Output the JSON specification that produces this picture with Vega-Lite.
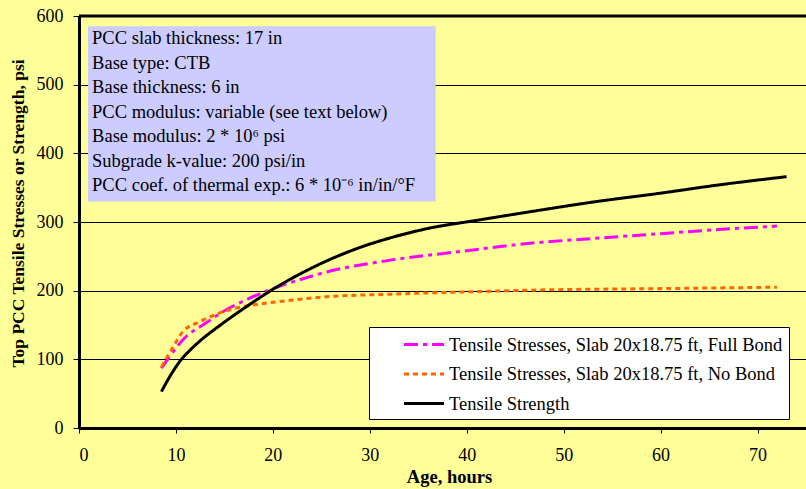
{
  "$schema": "https://vega.github.io/schema/vega-lite/v6.json",
  "width": 727,
  "height": 412,
  "autosize": {"type": "none"},
  "padding": {"left": 79, "top": 16, "right": 0, "bottom": 61},
  "background": "#FFFF99",
  "config": {
    "view": {"stroke": null, "fill": "#FFFF99"},
    "font": "Liberation Serif",
    "text": {"font": "Liberation Serif"}
  },
  "data": {
    "values": [
      {"series": "Tensile Stresses, Slab 20x18.75 ft, Full Bond", "age": 8.5, "psi": 87},
      {"series": "Tensile Stresses, Slab 20x18.75 ft, Full Bond", "age": 10.1, "psi": 118},
      {"series": "Tensile Stresses, Slab 20x18.75 ft, Full Bond", "age": 10.7, "psi": 128},
      {"series": "Tensile Stresses, Slab 20x18.75 ft, Full Bond", "age": 13.2, "psi": 154},
      {"series": "Tensile Stresses, Slab 20x18.75 ft, Full Bond", "age": 14.8, "psi": 169},
      {"series": "Tensile Stresses, Slab 20x18.75 ft, Full Bond", "age": 17.6, "psi": 189},
      {"series": "Tensile Stresses, Slab 20x18.75 ft, Full Bond", "age": 20.4, "psi": 205},
      {"series": "Tensile Stresses, Slab 20x18.75 ft, Full Bond", "age": 23.5, "psi": 219},
      {"series": "Tensile Stresses, Slab 20x18.75 ft, Full Bond", "age": 25.5, "psi": 227},
      {"series": "Tensile Stresses, Slab 20x18.75 ft, Full Bond", "age": 32.4, "psi": 245},
      {"series": "Tensile Stresses, Slab 20x18.75 ft, Full Bond", "age": 39.3, "psi": 257},
      {"series": "Tensile Stresses, Slab 20x18.75 ft, Full Bond", "age": 46.5, "psi": 269},
      {"series": "Tensile Stresses, Slab 20x18.75 ft, Full Bond", "age": 53, "psi": 276},
      {"series": "Tensile Stresses, Slab 20x18.75 ft, Full Bond", "age": 60, "psi": 283},
      {"series": "Tensile Stresses, Slab 20x18.75 ft, Full Bond", "age": 66, "psi": 289},
      {"series": "Tensile Stresses, Slab 20x18.75 ft, Full Bond", "age": 72, "psi": 294},
      {"series": "Tensile Stresses, Slab 20x18.75 ft, No Bond", "age": 8.5, "psi": 89},
      {"series": "Tensile Stresses, Slab 20x18.75 ft, No Bond", "age": 9.5, "psi": 113},
      {"series": "Tensile Stresses, Slab 20x18.75 ft, No Bond", "age": 10.7, "psi": 140},
      {"series": "Tensile Stresses, Slab 20x18.75 ft, No Bond", "age": 12.5, "psi": 155},
      {"series": "Tensile Stresses, Slab 20x18.75 ft, No Bond", "age": 14.8, "psi": 169},
      {"series": "Tensile Stresses, Slab 20x18.75 ft, No Bond", "age": 17.9, "psi": 179},
      {"series": "Tensile Stresses, Slab 20x18.75 ft, No Bond", "age": 20, "psi": 183},
      {"series": "Tensile Stresses, Slab 20x18.75 ft, No Bond", "age": 25.5, "psi": 191},
      {"series": "Tensile Stresses, Slab 20x18.75 ft, No Bond", "age": 32.4, "psi": 195},
      {"series": "Tensile Stresses, Slab 20x18.75 ft, No Bond", "age": 39.3, "psi": 198},
      {"series": "Tensile Stresses, Slab 20x18.75 ft, No Bond", "age": 47.5, "psi": 201},
      {"series": "Tensile Stresses, Slab 20x18.75 ft, No Bond", "age": 60, "psi": 203},
      {"series": "Tensile Stresses, Slab 20x18.75 ft, No Bond", "age": 72, "psi": 205},
      {"series": "Tensile Strength", "age": 8.5, "psi": 53},
      {"series": "Tensile Strength", "age": 9.5, "psi": 78},
      {"series": "Tensile Strength", "age": 10.4, "psi": 97},
      {"series": "Tensile Strength", "age": 11.5, "psi": 114},
      {"series": "Tensile Strength", "age": 12.5, "psi": 127},
      {"series": "Tensile Strength", "age": 14.5, "psi": 149},
      {"series": "Tensile Strength", "age": 17.3, "psi": 177},
      {"series": "Tensile Strength", "age": 20, "psi": 202},
      {"series": "Tensile Strength", "age": 22.1, "psi": 219},
      {"series": "Tensile Strength", "age": 25.5, "psi": 243},
      {"series": "Tensile Strength", "age": 29, "psi": 263},
      {"series": "Tensile Strength", "age": 32.4, "psi": 278},
      {"series": "Tensile Strength", "age": 35.8, "psi": 290},
      {"series": "Tensile Strength", "age": 41.3, "psi": 303},
      {"series": "Tensile Strength", "age": 47, "psi": 316},
      {"series": "Tensile Strength", "age": 53, "psi": 329},
      {"series": "Tensile Strength", "age": 60, "psi": 342},
      {"series": "Tensile Strength", "age": 66, "psi": 354},
      {"series": "Tensile Strength", "age": 73, "psi": 366}
    ]
  },
  "layer": [
    {
      "data": {"values": [{}]},
      "mark": {"type": "rect", "fill": "#CCCCFF", "stroke": null},
      "encoding": {
        "x": {"datum": 0.93, "type": "quantitative"},
        "x2": {"datum": 36.8},
        "y": {"datum": 585, "type": "quantitative"},
        "y2": {"datum": 330}
      }
    },
    {
      "data": {"values": [{}]},
      "mark": {
        "type": "text",
        "align": "left",
        "baseline": "middle",
        "fontSize": 18.5,
        "lineHeight": 24.5,
        "color": "#000000",
        "text": [
          "PCC slab thickness: 17 in",
          "Base type: CTB",
          "Base thickness: 6 in",
          "PCC modulus: variable (see text below)",
          "Base modulus: 2 * 10⁶ psi",
          "Subgrade k-value: 200 psi/in",
          "PCC coef. of thermal exp.: 6 * 10⁻⁶ in/in/°F"
        ]
      },
      "encoding": {
        "x": {"datum": 1.35, "type": "quantitative"},
        "y": {"datum": 567.7, "type": "quantitative"}
      }
    },
    {
      "data": {"values": [{}]},
      "mark": {"type": "rule", "stroke": "#000000", "strokeWidth": 3},
      "encoding": {"y": {"datum": 600, "type": "quantitative"}}
    },
    {
      "mark": {"type": "line", "interpolate": "monotone", "strokeWidth": 3},
      "encoding": {
        "x": {
          "field": "age",
          "type": "quantitative",
          "scale": {"domain": [0, 75], "nice": false},
          "axis": {
            "title": "Age, hours",
            "values": [0, 10, 20, 30, 40, 50, 60, 70],
            "grid": false,
            "domainColor": "#000000",
            "domainWidth": 3,
            "tickColor": "#000000",
            "tickSize": 5,
            "labelFont": "Liberation Serif",
            "labelFontSize": 18,
            "labelColor": "#000000",
            "labelPadding": 13,
            "titleFont": "Liberation Serif",
            "titleFontSize": 18.5,
            "titleFontWeight": "bold",
            "titleColor": "#000000",
            "titleX": 370,
            "titleY": 48,
            "titleBaseline": "middle",
            "titleAlign": "center"
          }
        },
        "y": {
          "field": "psi",
          "type": "quantitative",
          "scale": {"domain": [0, 600], "nice": false},
          "axis": {
            "title": "Top PCC Tensile Stresses or Strength, psi",
            "values": [0, 100, 200, 300, 400, 500, 600],
            "grid": true,
            "gridColor": "#000000",
            "gridWidth": 1,
            "gridOpacity": 1,
            "domainColor": "#000000",
            "domainWidth": 3,
            "tickColor": "#000000",
            "tickSize": 6,
            "labelFont": "Liberation Serif",
            "labelFontSize": 18,
            "labelColor": "#000000",
            "labelPadding": 10,
            "titleFont": "Liberation Serif",
            "titleFontSize": 17.5,
            "titleFontWeight": "bold",
            "titleColor": "#000000",
            "titleAngle": -90,
            "titleX": -61,
            "titleY": 197,
            "titleBaseline": "middle",
            "titleAlign": "center"
          }
        },
        "color": {
          "field": "series",
          "type": "nominal",
          "scale": {
            "domain": [
              "Tensile Stresses, Slab 20x18.75 ft, Full Bond",
              "Tensile Stresses, Slab 20x18.75 ft, No Bond",
              "Tensile Strength"
            ],
            "range": ["#FF00FF", "#FF6600", "#000000"]
          },
          "legend": {
            "title": null,
            "orient": "none",
            "legendX": 290,
            "legendY": 311,
            "fillColor": "#FFFFFF",
            "strokeColor": "#000000",
            "padding": 6,
            "symbolType": "M-2,0H2",
            "symbolSize": 400,
            "symbolStrokeWidth": 3,
            "symbolOffset": 37.5,
            "labelOffset": 13.5,
            "labelFont": "Liberation Serif",
            "labelFontSize": 18.5,
            "labelColor": "#000000",
            "labelLimit": 600,
            "rowPadding": 8.5
          }
        },
        "strokeDash": {
          "field": "series",
          "type": "nominal",
          "scale": {
            "domain": [
              "Tensile Stresses, Slab 20x18.75 ft, Full Bond",
              "Tensile Stresses, Slab 20x18.75 ft, No Bond",
              "Tensile Strength"
            ],
            "range": [[14, 5, 4, 5], [5, 4], [1, 0]]
          }
        }
      }
    }
  ]
}
